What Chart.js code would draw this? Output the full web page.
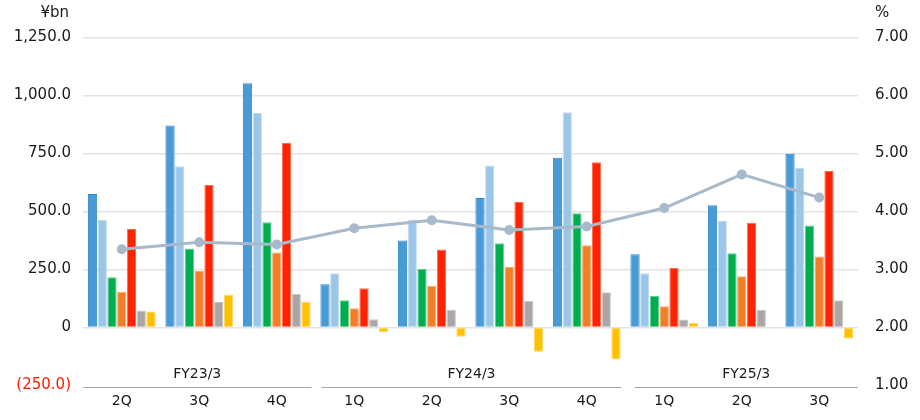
<!DOCTYPE html>
<html>
<head>
<meta charset="utf-8">
<script src="https://cdn.jsdelivr.net/npm/chart.js@4/dist/chart.umd.min.js"></script>
<style>
  html, body { margin: 0; padding: 0; background: #ffffff; overflow: hidden; }
  #wrap { width: 920px; height: 420px; position: relative; }
  canvas { display: block; }
</style>
</head>
<body>
<div id="wrap"><canvas id="c" width="920" height="420" style="width:920px;height:420px"></canvas></div>
<script>
// ---- Data ----
const quarters = ['2Q','3Q','4Q','1Q','2Q','3Q','4Q','1Q','2Q','3Q'];
const fiscalYears = ['FY23/3','FY24/3','FY25/3'];
const fiscalYearSizes = [3, 4, 3];

const seriesBlue      = [575, 871, 1053, 186, 375, 558, 732, 316, 527, 749];
const seriesLightBlue = [464, 695,  925, 234, 464, 698, 928, 234, 461, 689];
const seriesGreen     = [217, 341,  454, 117, 253, 363, 492, 136, 320, 440];
const seriesOrange    = [154, 243,  323,  83, 180, 261, 354,  92, 221, 306];
const seriesRed       = [425, 614,  795, 169, 336, 541, 712, 256, 452, 675];
const seriesGray      = [ 73, 110,  144,  36,  76, 114, 152,  34,  76, 117];
const seriesYellow    = [ 69, 141,  110, -21, -40, -104, -138, 19, null, -47];
const ratioPct        = [3.35, 3.47, 3.43, 3.71, 3.85, 3.68, 3.74, 4.06, 4.64, 4.24];

const leftTicks  = [-250, 0, 250, 500, 750, 1000, 1250];
const rightTicks = [1, 2, 3, 4, 5, 6, 7];

const FONT = '"DejaVu Sans", Verdana, sans-serif';

function fmtLeft(v) {
  if (v === 0) return '0';
  const s = Math.abs(v).toLocaleString('en-US', { minimumFractionDigits: 1, maximumFractionDigits: 1 });
  return v < 0 ? '(' + s + ')' : s;
}

function bar(label, data, bg, border) {
  return {
    type: 'bar', label, data, backgroundColor: bg, borderColor: border,
    borderWidth: 1, yAxisID: 'y', order: 2,
    categoryPercentage: 0.88, barPercentage: 0.95
  };
}

const groupPlugin = {
  id: 'groups',
  afterDraw(chart) {
    const ctx = chart.ctx;
    const xs = chart.scales.x;
    const area = chart.chartArea;
    const step = xs.getPixelForValue(1) - xs.getPixelForValue(0);
    ctx.save();
    ctx.font = '15px ' + FONT;
    ctx.fillStyle = '#1a1a1a';
    ctx.textBaseline = 'middle';
    ctx.textAlign = 'right';
    ctx.fillText('¥bn', 69, 13);
    ctx.textAlign = 'left';
    ctx.fillText('%', 875, 13);
    let idx = 0;
    const lineY = 387.5;
    fiscalYears.forEach((fy, g) => {
      const n = fiscalYearSizes[g];
      const firstB = xs.getPixelForValue(idx) - step / 2;
      const lastB = xs.getPixelForValue(idx + n - 1) + step / 2;
      const x0 = g === 0 ? area.left : firstB + (g === fiscalYears.length - 1 ? 9 : 6);
      const x1 = g === fiscalYears.length - 1 ? area.right : lastB - 4;
      ctx.strokeStyle = '#a6a6a6';
      ctx.lineWidth = 1;
      ctx.beginPath();
      ctx.moveTo(x0, lineY);
      ctx.lineTo(x1, lineY);
      ctx.stroke();
      ctx.font = '14px ' + FONT;
      ctx.fillStyle = '#1a1a1a';
      ctx.textAlign = 'center';
      ctx.textBaseline = 'middle';
      ctx.fillText(fy, (x0 + x1) / 2, 374.5);
      idx += n;
    });
    ctx.restore();
  }
};

new Chart(document.getElementById('c'), {
  data: {
    labels: quarters,
    datasets: [
      {
        type: 'line', label: 'Ratio (%)', data: ratioPct, yAxisID: 'y1', order: 1,
        borderColor: '#a8b9cc', backgroundColor: '#a8b9cc', borderWidth: 3,
        pointRadius: 3.5, pointHoverRadius: 3.5, pointBackgroundColor: '#a8b9cc',
        pointBorderColor: '#a8b9cc', tension: 0
      },
      bar('Series 1', seriesBlue,      '#489bd7', '#2f86c6'),
      bar('Series 2', seriesLightBlue, '#9cc6e7', '#c2dcf1'),
      bar('Series 3', seriesGreen,     '#00ae4f', '#5fd08f'),
      bar('Series 4', seriesOrange,    '#f47d27', '#f8a866'),
      bar('Series 5', seriesRed,       '#ff2300', '#ff6a50'),
      bar('Series 6', seriesGray,      '#aaa6a5', '#c8c5c4'),
      bar('Series 7', seriesYellow,    '#ffc000', '#ffd65a')
    ]
  },
  options: {
    responsive: false,
    maintainAspectRatio: false,
    animation: false,
    devicePixelRatio: 1,
    layout: { padding: { top: 37.5, left: 10, right: 0, bottom: 0 } },
    plugins: { legend: { display: false }, tooltip: { enabled: false } },
    scales: {
      x: {
        offset: true,
        grid: { display: false, drawTicks: false },
        border: { display: false },
        ticks: { font: { family: FONT, size: 14 }, color: '#1a1a1a', padding: 7, autoSkip: false, maxRotation: 0 },
        afterFit(s) { s.height = 34.5; }
      },
      y: {
        position: 'left', min: -250, max: 1250,
        afterBuildTicks(s) { s.ticks = leftTicks.map(v => ({ value: v })); },
        grid: {
          color: c => (c.tick && c.tick.value === -250) ? 'rgba(0,0,0,0)' : '#e3e3e3',
          lineWidth: 1.5, drawTicks: false
        },
        border: { display: false },
        ticks: {
          font: { family: FONT, size: 15 }, padding: 12,
          color: c => (c.tick && c.tick.value < 0) ? '#ff1a00' : '#1a1a1a',
          callback: v => fmtLeft(v)
        },
        afterFit(s) { s.width = 73; }
      },
      y1: {
        position: 'right', min: 1, max: 7,
        afterBuildTicks(s) { s.ticks = rightTicks.map(v => ({ value: v })); },
        grid: { display: false, drawTicks: false },
        border: { display: false },
        ticks: {
          font: { family: FONT, size: 15 }, padding: 17, color: '#1a1a1a',
          callback: v => Number(v).toFixed(2)
        },
        afterFit(s) { s.width = 62; }
      }
    }
  },
  plugins: [groupPlugin]
});
</script>
</body>
</html>
